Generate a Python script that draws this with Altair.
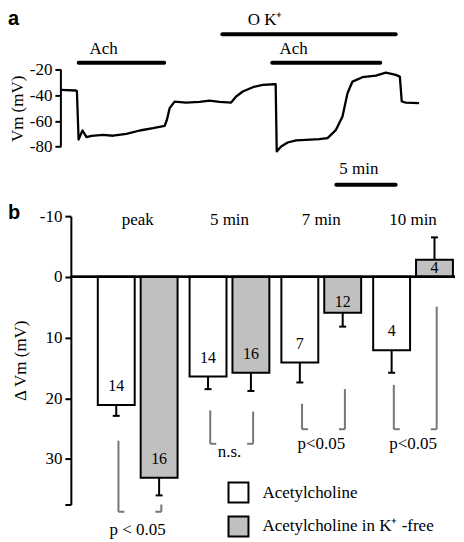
import altair as alt
import pandas as pd

SERIF = "Liberation Serif"

# ---------------- Panel a: membrane potential trace ----------------
trace_t = [0.0, 1.26, 1.35, 1.49, 1.82, 2.16, 2.58, 3.55, 4.39, 5.52, 6.64, 7.76, 8.74,
           8.93, 9.16, 9.58, 10.56, 11.68, 12.52, 13.36, 14.34, 14.76, 15.32, 16.16, 17.0,
           17.98, 18.09, 18.18, 18.55, 19.1, 19.81, 20.65, 21.76, 22.46, 23.17, 23.72,
           24.14, 24.56, 25.4, 26.53, 27.37, 28.21, 28.55, 28.71, 29.05, 30.17]
trace_v = [-35.6, -36.1, -36.5, -74.5, -67.4, -72.6, -71.6, -70.8, -71.5, -70.0, -67.4, -65.6, -63.8,
           -59.0, -49.9, -44.8, -45.5, -45.0, -44.0, -45.0, -45.5, -40.8, -36.9, -33.5, -31.7,
           -31.2, -31.2, -83.8, -79.9, -76.8, -75.2, -74.7, -74.2, -73.4, -66.9, -56.5,
           -38.2, -29.1, -25.7, -24.4, -22.1, -23.9, -25.2, -44.7, -45.5, -46.0]

marker_label = ["Ach", "Ach", "O K⁺", "5 min"]
marker_start = [1.5, 17.8, 13.6, 23.2]
marker_end = [8.7, 26.9, 28.2, 28.2]
marker_level = [-14.3, -14.3, 7.9, -109.8]
label_t = [3.6, 19.6, 17.2, 25.1]
label_level = [-3.8, -3.8, 19.0, -97.6]

vm_ticks = [-20, -40, -60, -80]
panel_labels = ["a", "b"]

# ---------------- Panel b: bar chart ----------------
groups = ["peak", "5 min", "7 min", "10 min"]
series = ["Acetylcholine", "Acetylcholine in K⁺ -free"]
ach_mean = [21.1, 16.4, 14.1, 12.1]
ach_err = [22.9, 18.5, 17.4, 15.8]
ach_n = [14, 14, 7, 4]
kf_mean = [33.1, 15.8, 5.9, -2.8]
kf_err = [36.0, 18.8, 8.2, -6.5]
kf_n = [16, 16, 12, 4]
stat_label = ["p < 0.05", "n.s.", "p<0.05", "p<0.05"]
stat_level = [41.7, 28.8, 27.5, 27.5]
br_ach_top = [27.0, 22.0, 20.9, 17.8]
br_kf_top = [37.5, 22.2, 18.5, 4.9]
br_bottom = [38.7, 27.5, 25.1, 25.1]
dvm_ticks = [-10, -5, 0, 5, 10, 15, 20, 25, 30, 35, 37.5]
group_label_level = -9.4

# ---------------- tables ----------------
trace_df = pd.DataFrame({"t": trace_t, "v": trace_v})
marker_df = pd.DataFrame({"label": marker_label, "start": marker_start, "end": marker_end,
                          "level": marker_level, "lt": label_t, "ll": label_level})
vaxis_df = pd.DataFrame({"t0": [trace_t[0]], "lo": [min(vm_ticks)], "hi": [max(vm_ticks)]})

idx = list(range(len(groups)))
bars_df = pd.DataFrame({
    "group": groups * 2,
    "gi": idx * 2,
    "si": [0] * 4 + [1] * 4,
    "series": [series[0]] * 4 + [series[1]] * 4,
    "mean": ach_mean + kf_mean,
    "err": ach_err + kf_err,
    "n": ach_n + kf_n,
})
br_df = pd.DataFrame({
    "gi": idx * 2,
    "si": [0] * 4 + [1] * 4,
    "top": br_ach_top + br_kf_top,
    "bottom": br_bottom * 2,
})
stat_df = pd.DataFrame({"gi": idx, "label": stat_label, "level": stat_level})
grp_df = pd.DataFrame({"gi": idx, "group": groups, "level": group_label_level})

# ---------------- panel a ----------------
xa_scale = alt.Scale(domain=[0.84, 30.17], nice=False, zero=False)
ya_scale = alt.Scale(domain=[-111, 21], nice=False, zero=False)
ya_axis = alt.Axis(values=vm_ticks, domain=False, offset=10, tickSize=6, tickWidth=2,
                   tickColor="black", labelPadding=3, title="Vm (mV)", titlePadding=3,
                   titleY=91, labelFont=SERIF, titleFont=SERIF,
                   labelExpr="(datum.value < 0 ? '-' : '') + abs(datum.value)")

def xa(f):
    return alt.X(f, scale=xa_scale, axis=None)

def ya(f):
    return alt.Y(f, scale=ya_scale, axis=ya_axis)

trace = alt.Chart(trace_df).mark_line(color="black", strokeWidth=2.3, strokeJoin="round").encode(
    x=xa("t:Q"), y=ya("v:Q"), order="t:Q")
vrule = alt.Chart(vaxis_df).mark_rule(color="black", strokeWidth=2).encode(
    x=xa("t0:Q"), y=ya("lo:Q"), y2="hi:Q")
mbars = alt.Chart(marker_df).mark_rule(color="black", strokeWidth=4, strokeCap="round").encode(
    x=xa("start:Q"), x2="end:Q", y=ya("level:Q"))
mtext = alt.Chart(marker_df).mark_text(font=SERIF, fontSize=17, color="black", baseline="middle").encode(
    x=xa("lt:Q"), y=ya("ll:Q"), text="label:N")
alabel = alt.Chart(pd.DataFrame({"p": [panel_labels[0]]})).mark_text(
    font="Liberation Sans", fontWeight="bold", fontSize=20, align="left", baseline="middle",
    color="black").encode(x=alt.value(-63), y=alt.value(1), text="p:N")

panel_a = alt.layer(trace, vrule, mbars, mtext, alabel).properties(width=349, height=169)

# ---------------- panel b ----------------
# x in "group steps": group i centred on i, the two bars at i -/+ 0.234
xb_scale = alt.Scale(domain=[-0.728, 3.457], nice=False, zero=False)
yb_scale = alt.Scale(domain=[-10, 37.5], reverse=True, nice=False, zero=False)
yb_axis = alt.Axis(values=dvm_ticks, tickSize=6, tickWidth=2, tickColor="black",
                   domainWidth=2, domainColor="black", labelPadding=3,
                   labelFont=SERIF, titleFont=SERIF,
                   title="Δ Vm (mV)", titlePadding=10,
                   labelExpr="datum.value == -5 ? '- 5' : (datum.value == 37.5 ? '' : (datum.value < 0 ? '-' : '') + abs(datum.value))")

def xb(f):
    return alt.X(f, scale=xb_scale, axis=None)

def yb(f):
    return alt.Y(f, scale=yb_scale, axis=yb_axis)

bar_base = alt.Chart(bars_df).transform_calculate(
    xc="datum.gi + (datum.si - 0.5) * 0.467",
    base="0",
    lab="datum.mean > 0 ? max(datum.mean - 3.1, datum.mean * 0.7) : datum.mean / 2",
).transform_calculate(
    x0="datum.xc - 0.201", x1="datum.xc + 0.201",
    c0="datum.xc - 0.038", c1="datum.xc + 0.038",
)

bars = bar_base.mark_bar(stroke="black", strokeWidth=2).encode(
    x=xb("x0:Q"), x2="x1:Q", y=yb("mean:Q"), y2="base:Q",
    fill=alt.Fill("series:N", sort=series,
                  scale=alt.Scale(domain=series, range=["white", "#c0c0c0"]),
                  legend=alt.Legend(title=None, orient="none", legendX=157, legendY=465,
                                    symbolType="square", symbolSize=400,
                                    symbolStrokeColor="black", symbolStrokeWidth=2,
                                    labelFont=SERIF, labelFontSize=17, labelColor="black",
                                    labelLimit=300, labelOffset=13, rowPadding=6)))
errs = bar_base.mark_rule(color="black", strokeWidth=2).encode(
    x=xb("xc:Q"), y=yb("mean:Q"), y2="err:Q")
caps = bar_base.mark_rule(color="black", strokeWidth=2).encode(
    x=xb("c0:Q"), x2="c1:Q", y=yb("err:Q"))
zero = alt.Chart(grp_df).mark_rule(color="black", strokeWidth=2).encode(y=alt.datum(0))
counts = bar_base.mark_text(font=SERIF, fontSize=16, color="black", baseline="middle").encode(
    x=xb("xc:Q"), y=yb("lab:Q"), text="n:Q")

BR = "#777777"
br_base = alt.Chart(br_df).transform_calculate(
    xv="datum.gi + (datum.si - 0.5) * 0.467 + 0.024",
).transform_calculate(
    xf="datum.si == 0 ? datum.xv + 0.065 : datum.xv - 0.065"
)
br_v = br_base.mark_rule(color=BR, strokeWidth=2).encode(
    x=xb("xv:Q"), y=yb("top:Q"), y2="bottom:Q")
br_f = br_base.mark_rule(color=BR, strokeWidth=2).encode(
    x=xb("xv:Q"), x2="xf:Q", y=yb("bottom:Q"))
stats = alt.Chart(stat_df).mark_text(font=SERIF, fontSize=17, color="black", baseline="middle").encode(
    x=xb("gi:Q"), y=yb("level:Q"), text="label:N")
glabels = alt.Chart(grp_df).mark_text(font=SERIF, fontSize=17, color="black", baseline="middle").encode(
    x=xb("gi:Q"), y=yb("level:Q"), text="group:N")
blabel = alt.Chart(pd.DataFrame({"p": [panel_labels[1]]})).mark_text(
    font="Liberation Sans", fontWeight="bold", fontSize=20, align="left", baseline="middle",
    color="black").encode(x=alt.value(-63), y=alt.value(-3.5), text="p:N")

panel_b = alt.layer(bars, errs, caps, zero, counts, br_v, br_f, stats, glabels, blabel
                    ).properties(width=385, height=289)

chart = alt.vconcat(panel_a, panel_b, spacing=15).properties(
    padding={"left": 0, "top": 0, "right": 0, "bottom": 0}
).configure_view(stroke=None).configure_axis(
    grid=False, labelFont=SERIF, labelFontSize=17, labelColor="black",
    titleFont=SERIF, titleFontSize=17, titleFontWeight="normal", titleColor="black",
    domainColor="black", domainWidth=2
)

chart.save("out.html", embed_options={"renderer": "svg", "actions": False})
